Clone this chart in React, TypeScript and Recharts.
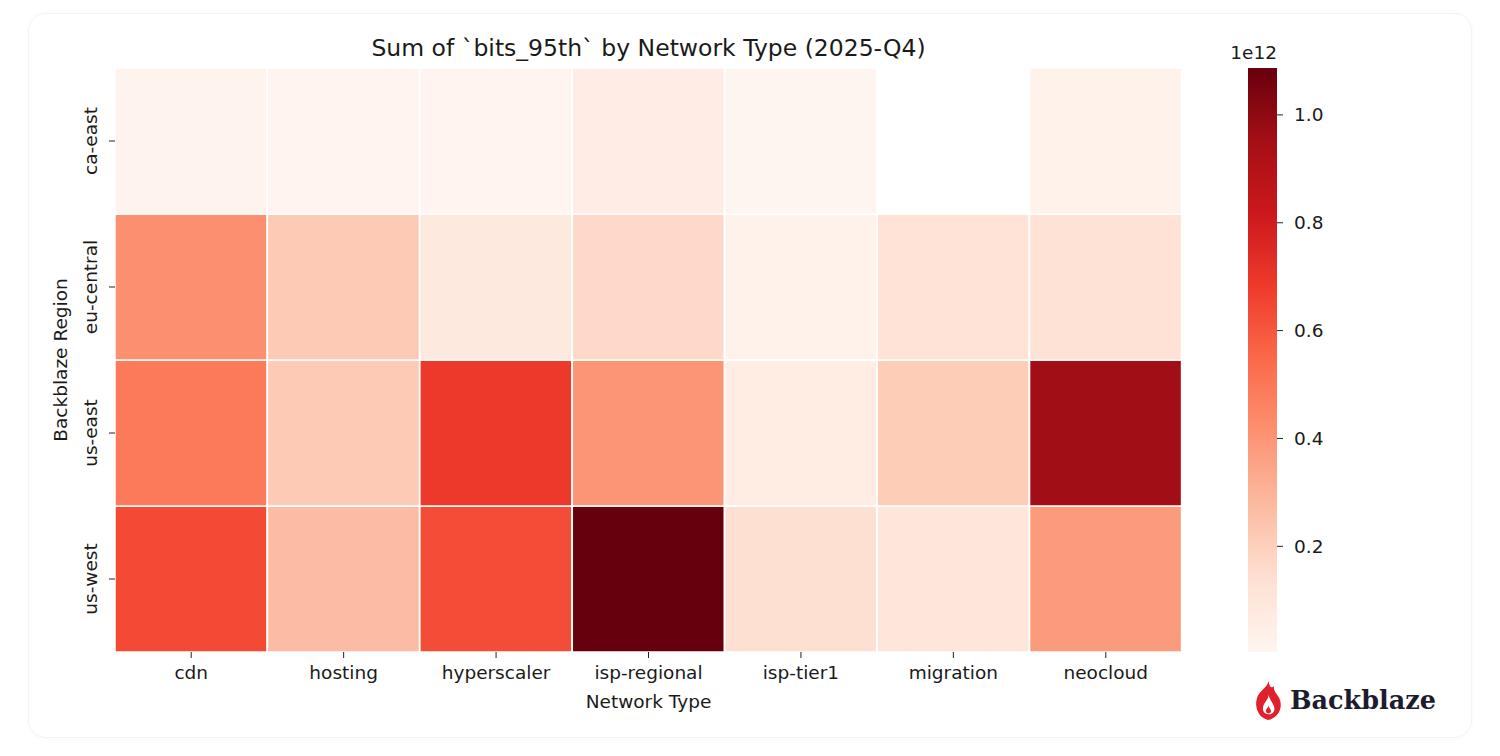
import { BarChart, Bar, Cell, XAxis, YAxis } from 'recharts'

const NETWORKS = ['cdn', 'hosting', 'hyperscaler', 'isp-regional', 'isp-tier1', 'migration', 'neocloud']
const REGIONS = ['ca-east', 'eu-central', 'us-east', 'us-west']

// sum of bits_95th per cell, in bits (null = no data)
const CA_EAST = [0.018e12, 0.01e12, 0.008e12, 0.055e12, 0.004e12, null, 0.025e12]
const EU_CENTRAL = [0.42e12, 0.22e12, 0.08e12, 0.165e12, 0.025e12, 0.12e12, 0.125e12]
const US_EAST = [0.49e12, 0.22e12, 0.69e12, 0.4e12, 0.065e12, 0.21e12, 0.96e12]
const US_WEST = [0.64e12, 0.27e12, 0.63e12, 1.087e12, 0.14e12, 0.1e12, 0.38e12]

const CBAR_TICKS = [0.2e12, 0.4e12, 0.6e12, 0.8e12, 1.0e12]

// matplotlib "Reds"
const REDS = ['#fff5f0', '#fee0d2', '#fcbba1', '#fc9272', '#fb6a4a', '#ef3b2c', '#cb181d', '#a50f15', '#67000d']

const VALUES: Record<string, (number | null)[]> = {
  'ca-east': CA_EAST,
  'eu-central': EU_CENTRAL,
  'us-east': US_EAST,
  'us-west': US_WEST,
}

const allVals = [...CA_EAST, ...EU_CENTRAL, ...US_EAST, ...US_WEST].filter((v): v is number => v != null)
const VMIN = Math.min(...allVals)
const VMAX = Math.max(...allVals)

const hex = (h: string) => [1, 3, 5].map(i => parseInt(h.slice(i, i + 2), 16))

function redsColor(v: number | null) {
  if (v == null) return '#ffffff'
  const f = Math.max(0, Math.min(1, (v - VMIN) / (VMAX - VMIN))) * (REDS.length - 1)
  const i = Math.min(REDS.length - 2, Math.floor(f))
  const t = f - i
  const a = hex(REDS[i])
  const b = hex(REDS[i + 1])
  const c = a.map((x, k) => Math.round(x + (b[k] - x) * t))
  return `rgb(${c[0]},${c[1]},${c[2]})`
}

// each cell is one unit tall; rows stacked bottom-up
const STACK_ORDER = ['us-west', 'us-east', 'eu-central', 'ca-east']
const tableData = NETWORKS.map(network => {
  const row: Record<string, string | number> = { network }
  REGIONS.forEach(r => { row[r] = 1 })
  return row
})

const FONT = '"DejaVu Sans", sans-serif'
const TEXT = '#1a1a1a'

function RegionTick({ x, y, payload }: any) {
  const label = REGIONS[3 - Math.floor(payload.value)]
  return (
    <text x={x} y={y} transform={`rotate(-90 ${x} ${y})`} textAnchor="middle" fontSize={18.5} fontFamily={FONT} fill={TEXT}>
      {label}
    </text>
  )
}

export default function App() {
  return (
    <div style={{ position: 'absolute', left: 0, top: 0, width: 1500, height: 756, background: '#fff', overflow: 'hidden' }}>
      <div
        style={{
          position: 'absolute', left: 28, top: 13, width: 1444, height: 725,
          border: '1px solid #f3f3f6', borderRadius: 18, boxShadow: '0 0 5px rgba(0,0,0,0.03)', boxSizing: 'border-box',
        }}
      />
      <div style={{ position: 'absolute', left: 0, top: 0 }}>
        <BarChart width={1200} height={756} data={tableData} margin={{ top: 68, right: 18, bottom: 64, left: 0 }} barCategoryGap={0}>
          <XAxis
            dataKey="network"
            height={40}
            axisLine={false}
            tickSize={6}
            tickMargin={8}
            tickLine={{ stroke: '#222' }}
            tick={{ fontSize: 18.5, fontFamily: FONT, fill: TEXT }}
            interval={0}
          />
          <YAxis
            type="number"
            domain={[0, 4]}
            ticks={[0.5, 1.5, 2.5, 3.5]}
            width={115}
            axisLine={false}
            tickSize={6}
            tickMargin={12}
            tickLine={{ stroke: '#222' }}
            tick={<RegionTick />}
          />
          {STACK_ORDER.map(region => (
            <Bar key={region} dataKey={region} stackId="h" isAnimationActive={false}>
              {NETWORKS.map((n, i) => (
                <Cell key={n} fill={redsColor(VALUES[region][i])} stroke="#ffffff" strokeWidth={1.5} />
              ))}
            </Bar>
          ))}
        </BarChart>
      </div>
      <div style={{ position: 'absolute', left: 1240, top: 0 }}>
        <BarChart width={130} height={756} data={[{ name: 'cbar', range: [VMIN, VMAX] }]} margin={{ top: 68, right: 0, bottom: 104, left: 8 }} barCategoryGap={0}>
          <defs>
            <linearGradient id="redsGrad" x1="0" y1="1" x2="0" y2="0">
              {REDS.map((c, i) => (
                <stop key={c} offset={i / (REDS.length - 1)} stopColor={c} />
              ))}
            </linearGradient>
          </defs>
          <XAxis dataKey="name" hide height={0} />
          <YAxis
            orientation="right"
            type="number"
            domain={[VMIN, VMAX]}
            allowDataOverflow
            ticks={CBAR_TICKS}
            width={93}
            axisLine={false}
            tickSize={6}
            tickMargin={11}
            tickLine={{ stroke: '#222' }}
            tick={{ fontSize: 18.5, fontFamily: FONT, fill: TEXT, textAnchor: 'start' }}
            tickFormatter={(v: number) => (v / 1e12).toFixed(1)}
          />
          <Bar dataKey="range" fill="url(#redsGrad)" isAnimationActive={false} />
        </BarChart>
      </div>
      <svg width={1500} height={756} style={{ position: 'absolute', left: 0, top: 0, pointerEvents: 'none' }}>
        <text x={648.5} y={56} textAnchor="middle" fontSize={23.5} fontFamily={FONT} fill={TEXT}>
          Sum of `bits_95th` by Network Type (2025-Q4)
        </text>
        <text x={648.5} y={708} textAnchor="middle" fontSize={18.5} fontFamily={FONT} fill={TEXT}>
          Network Type
        </text>
        <text x={67} y={360} transform="rotate(-90 67 360)" textAnchor="middle" fontSize={18.5} fontFamily={FONT} fill={TEXT}>
          Backblaze Region
        </text>
        <text x={1277} y={59} textAnchor="end" fontSize={18.5} fontFamily={FONT} fill={TEXT}>
          1e12
        </text>
        <g transform="translate(1253 678)">
          <path d="M15 0 C18 8 6 12 4 20 C1 30 6 40 15 42 C24 40 30 32 27 22 C25 16 20 14 21 8 C17 12 16 6 15 0 Z" fill="#e0202a" />
          <path d="M15 16 C17 22 9 24 10 32 C11 37 19 38 21 33 C23 28 18 25 15 16 Z" fill="#ffffff" />
          <path d="M15 27 C16 30 12 31 13 34 C14 36 18 36 18 33 C18 31 16 30 15 27 Z" fill="#e0202a" />
        </g>
        <text x={1290} y={709} fontSize={25.5} fontWeight="bold" fontFamily='"DejaVu Serif", serif' fill="#1c1c2e">
          Backblaze
        </text>
      </svg>
    </div>
  )
}
